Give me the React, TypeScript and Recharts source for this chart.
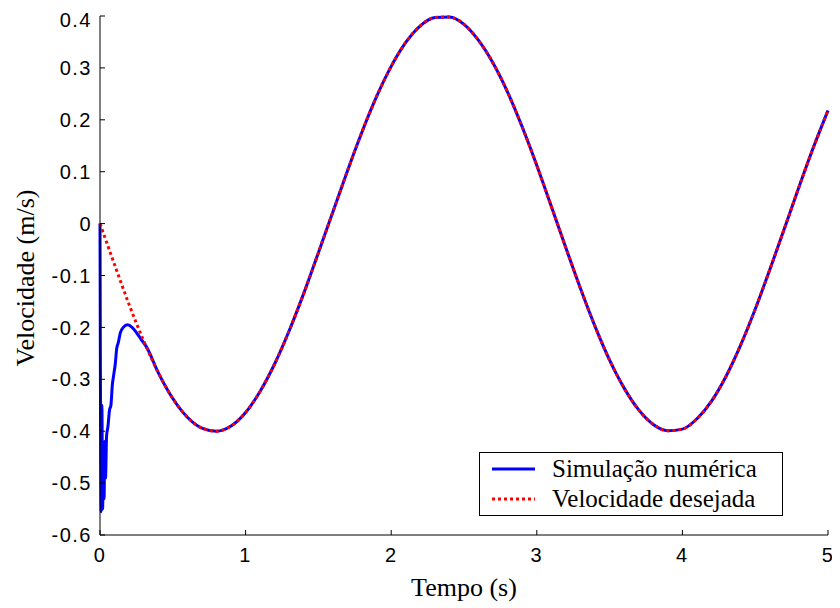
import { Customized, Legend, Line, LineChart, XAxis, YAxis } from 'recharts';

// tempo (s) da velocidade desejada
const desiredTime = [
  0, 0.1, 0.2, 0.3, 0.4, 0.5, 0.6, 0.7, 0.8, 0.9, 1.0, 1.1, 1.2, 1.3, 1.4, 1.5, 1.6,
  1.7, 1.8, 1.9, 2.0, 2.1, 2.2, 2.3, 2.4, 2.5, 2.6, 2.7, 2.8, 2.9, 3.0, 3.1, 3.2, 3.3,
  3.4, 3.5, 3.6, 3.7, 3.8, 3.9, 4.0, 4.1, 4.2, 4.3, 4.4, 4.5, 4.6, 4.7, 4.8, 4.9, 5.0,
];
const desiredVel = [
  0, -0.079, -0.156, -0.226, -0.287, -0.337, -0.373, -0.394, -0.4, -0.39, -0.364,
  -0.323, -0.27, -0.206, -0.134, -0.056, 0.023, 0.102, 0.177, 0.245, 0.303, 0.349,
  0.381, 0.397, 0.398, 0.384, 0.353, 0.309, 0.253, 0.186, 0.112, 0.033, -0.047,
  -0.125, -0.198, -0.263, -0.317, -0.359, -0.387, -0.399, -0.396, -0.376, -0.342,
  -0.294, -0.234, -0.165, -0.089, -0.01, 0.07, 0.147, 0.218,
];

// transitório inicial da simulação (depois segue a desejada)
const transientTime = [
  0, 0.003, 0.008, 0.013, 0.018, 0.023, 0.028, 0.033, 0.038, 0.045, 0.055, 0.065,
  0.075, 0.085, 0.095, 0.105, 0.115, 0.125, 0.14, 0.16, 0.19, 0.22, 0.25, 0.28, 0.32,
];
const transientVel = [
  0, -0.3, -0.555, -0.35, -0.55, -0.45, -0.53, -0.42, -0.49, -0.41, -0.39, -0.36,
  -0.35, -0.31, -0.29, -0.27, -0.24, -0.23, -0.21, -0.2, -0.195, -0.2, -0.21, -0.222, -0.238,
];

const xTicks = [0, 1, 2, 3, 4, 5];
const yTicks = [-0.6, -0.5, -0.4, -0.3, -0.2, -0.1, 0, 0.1, 0.2, 0.3, 0.4];

const desiredData = desiredTime.map((t, i) => ({ t, v: desiredVel[i] }));
const simData = [
  ...transientTime.map((t, i) => ({ t, v: transientVel[i] })),
  ...desiredData.filter((d) => d.t > 0.35),
];

const tickStyle = { fill: '#000', fontSize: 20, fontFamily: 'Liberation Sans, Arial', letterSpacing: 1.5 };
const serif = '"Liberation Serif", "Times New Roman", serif';

const LegendBox = () => (
  <svg width={304} height={64}>
    <rect x={0.5} y={0.5} width={303} height={63} fill="#fff" stroke="#000" />
    <line x1={13} x2={56} y1={17} y2={17} stroke="#0000ff" strokeWidth={3} />
    <line x1={13} x2={56} y1={47} y2={47} stroke="#ff0000" strokeWidth={3} strokeDasharray="3 3" />
    <text x={73} y={25} style={{ fontFamily: serif, fontSize: 25 }} fill="#000">Simulação numérica</text>
    <text x={73} y={55} style={{ fontFamily: serif, fontSize: 25 }} fill="#000">Velocidade desejada</text>
  </svg>
);

const AxisTitles = () => (
  <g>
    <text x={456} y={588} textAnchor="middle" style={{ fontFamily: serif, fontSize: 26 }} fill="#000">
      Tempo (s)
    </text>
    <text
      x={26}
      y={270}
      transform="rotate(-90 26 270)"
      textAnchor="middle"
      style={{ fontFamily: serif, fontSize: 26 }}
      fill="#000"
    >
      Velocidade (m/s)
    </text>
  </g>
);

export default function App() {
  return (
    <LineChart width={832} height={600} margin={{ top: 8, right: 12, bottom: 33, left: 0 }}>
      <XAxis
        dataKey="t"
        type="number"
        domain={[0, 5]}
        ticks={xTicks}
        height={40}
        tickSize={-5}
        tickMargin={18}
        axisLine={{ stroke: '#000' }}
        tickLine={{ stroke: '#000' }}
        tick={tickStyle}
      />
      <XAxis
        xAxisId="top"
        dataKey="t"
        type="number"
        orientation="top"
        domain={[0, 5]}
        ticks={xTicks}
        height={0}
        tickSize={-5}
        tick={false}
        axisLine={{ stroke: '#000' }}
        tickLine={{ stroke: '#000' }}
      />
      <YAxis
        type="number"
        domain={[-0.6, 0.4]}
        ticks={yTicks}
        width={92}
        tickSize={-5}
        tickMargin={13}
        axisLine={{ stroke: '#000' }}
        tickLine={{ stroke: '#000' }}
        tick={tickStyle}
        tickFormatter={(v: number) => String(v)}
      />
      <YAxis
        yAxisId="right"
        orientation="right"
        type="number"
        domain={[-0.6, 0.4]}
        ticks={yTicks}
        width={0}
        tickSize={-5}
        tick={false}
        axisLine={{ stroke: '#000' }}
        tickLine={{ stroke: '#000' }}
      />
      <Line
        data={simData}
        dataKey="v"
        type="monotone"
        stroke="#0000ff"
        strokeWidth={3}
        dot={false}
        isAnimationActive={false}
      />
      <Line
        data={desiredData}
        dataKey="v"
        type="monotone"
        stroke="#ff0000"
        strokeWidth={3}
        strokeDasharray="3 3"
        dot={false}
        isAnimationActive={false}
      />
      <Customized component={AxisTitles} />
      <Legend
        layout="vertical"
        align="center"
        verticalAlign="middle"
        content={() => <LegendBox />}
        wrapperStyle={{ position: 'absolute', left: 471, top: 444, width: 304, height: 64 }}
      />
    </LineChart>
  );
}
